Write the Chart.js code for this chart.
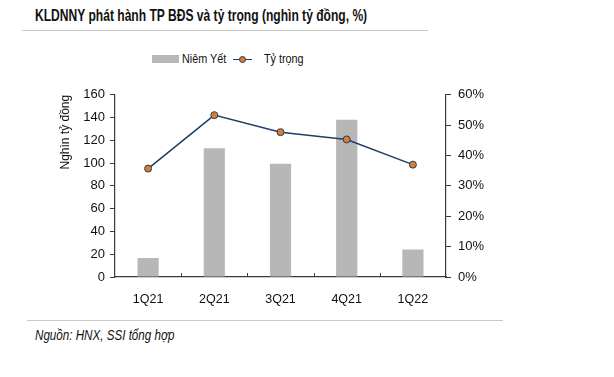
<!DOCTYPE html>
<html>
<head>
<meta charset="utf-8">
<script src="https://cdn.jsdelivr.net/npm/chart.js@4/dist/chart.umd.min.js"></script>
<style>
  body { margin: 0; background: #fff; width: 614px; height: 377px; position: relative; overflow: hidden;
         font-family: "Liberation Sans Narrow", "Arial Narrow", "Liberation Sans", sans-serif; color: #111; }
  .narrow { position: absolute; white-space: nowrap; transform-origin: 0 0; }
  #title { left: 35px; top: 6px; font-size: 17px; font-weight: bold; transform: scaleX(0.71); }
  #rule1 { position: absolute; left: 22px; top: 30px; width: 406px; height: 1px; background: #c8c8c8; }
  #rule2 { position: absolute; left: 27px; top: 320px; width: 476px; height: 1px; background: #c8c8c8; }
  #source { left: 35px; top: 327px; font-size: 14px; font-style: italic; transform: scaleX(0.83); }
  .leg { top: 51px; font-size: 13.5px; transform: scaleX(0.8); }
  #wrap { position: absolute; left: 0; top: 80px; width: 614px; height: 230px; }
</style>
</head>
<body>
<div id="title" class="narrow">KLDNNY phát hành TP BĐS và tỷ trọng (nghìn tỷ đồng, %)</div>
<div id="rule1"></div>
<div style="position:absolute;left:152px;top:55px;width:27px;height:8px;background:#b7b7b7"></div>
<div class="narrow leg" style="left:182px">Niêm Yết</div>
<div style="position:absolute;left:233px;top:58.5px;width:19px;height:1.5px;background:#1f3f66"></div>
<div style="position:absolute;left:239px;top:56px;width:5px;height:5px;border-radius:50%;background:#e07b28;border:1px solid #1f3f66"></div>
<div class="narrow leg" style="left:264px">Tỷ trọng</div>
<div id="wrap"><canvas id="chart" width="614" height="230"></canvas></div>
<div id="rule2"></div>
<div id="source" class="narrow">Nguồn: HNX, SSI tổng hợp</div>
<script>
const categories = ['1Q21', '2Q21', '3Q21', '4Q21', '1Q22'];
const niemYet = [16.7, 113, 99.4, 138, 24.2];
const tyTrong = [35.7, 53.3, 47.7, 45.3, 37.0];
const leftTicks = [0, 20, 40, 60, 80, 100, 120, 140, 160];
const rightTicks = [0, 10, 20, 30, 40, 50, 60];

const FONT = '"Liberation Sans Narrow", "Arial Narrow", "Liberation Sans", sans-serif';
const AXIS = '#3a3a3a';

// x-axis tick marks pointing up between categories
const innerTicks = {
  id: 'innerTicks',
  afterDraw(chart) {
    const x = chart.scales.x, ctx = chart.ctx;
    ctx.save();
    ctx.strokeStyle = AXIS;
    ctx.lineWidth = 1;
    for (let i = 1; i < categories.length; i++) {
      const px = Math.round((x.getPixelForValue(i - 1) + x.getPixelForValue(i)) / 2) + 0.5;
      ctx.beginPath();
      ctx.moveTo(px, x.top);
      ctx.lineTo(px, x.top - 4);
      ctx.stroke();
    }
    ctx.restore();
  }
};

new Chart(document.getElementById('chart'), {
  data: {
    labels: categories,
    datasets: [
      {
        type: 'line', label: 'Tỷ trọng', data: tyTrong, yAxisID: 'y2',
        borderColor: '#1f3f66', borderWidth: 1.5,
        pointBackgroundColor: '#e07b28', pointBorderColor: '#1f3f66', pointBorderWidth: 1,
        pointRadius: 3.5, tension: 0, order: 0
      },
      {
        type: 'bar', label: 'Niêm Yết', data: niemYet, yAxisID: 'y',
        backgroundColor: '#b7b7b7', barPercentage: 0.32, categoryPercentage: 1, order: 1
      }
    ]
  },
  options: {
    responsive: false,
    animation: false,
    layout: { padding: { top: 11, bottom: 0, left: 0, right: 0 } },
    plugins: { legend: { display: false }, tooltip: { enabled: false } },
    scales: {
      x: {
        grid: { display: false },
        border: { color: AXIS, width: 1.2 },
        ticks: { color: '#111', font: { family: FONT, size: 12.5 }, padding: 7 },
        afterFit(s) { s.height = 33; }
      },
      y: {
        position: 'left', min: 0, max: 160,
        grid: { drawOnChartArea: false, tickLength: 5, color: AXIS },
        border: { color: AXIS, width: 1.2 },
        afterBuildTicks(s) { s.ticks = leftTicks.map(v => ({ value: v })); },
        ticks: { color: '#111', font: { family: FONT, size: 13 }, padding: 5 },
        title: { display: true, text: 'Nghìn tỷ đồng', align: 'end', color: '#111',
                 font: { family: FONT, size: 12 }, padding: { top: 58, bottom: 0 } },
        afterFit(s) { s.width = 115; }
      },
      y2: {
        position: 'right', min: 0, max: 60,
        grid: { drawOnChartArea: false, tickLength: 5, color: AXIS },
        border: { color: AXIS, width: 1.2 },
        afterBuildTicks(s) { s.ticks = rightTicks.map(v => ({ value: v })); },
        ticks: { color: '#111', font: { family: FONT, size: 13 }, padding: 7, callback: v => v + '%' },
        afterFit(s) { s.width = 168; }
      }
    }
  },
  plugins: [innerTicks]
});
</script>
</body>
</html>
